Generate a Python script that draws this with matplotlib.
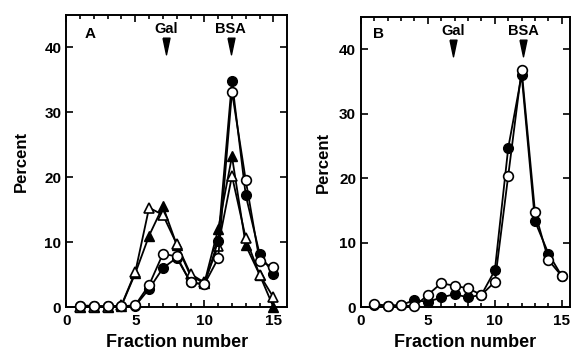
import numpy as np
import matplotlib
matplotlib.use("Agg")
import matplotlib.pyplot as plt

plt.rcParams['font.family'] = ['Liberation Sans', 'DejaVu Sans']
plt.rcParams['font.weight'] = 'bold'

# Panel A data
fractions = list(range(1, 16))
a_filled_circle = [0.2, 0.2, 0.1, 0.1, 0.2, 2.8, 6.0, 7.6, 3.8, 3.5, 10.2, 34.8, 17.2, 8.2, 5.1]
a_open_circle = [0.2, 0.2, 0.1, 0.1, 0.3, 3.4, 8.2, 7.8, 3.8, 3.5, 7.5, 33.2, 19.5, 7.1, 6.1]
a_filled_tri = [0.0, 0.0, 0.0, 0.2, 5.2, 11.0, 15.5, 9.6, 4.8, 3.7, 12.0, 23.2, 9.5, 5.0, 0.0]
a_open_tri = [0.0, 0.0, 0.0, 0.3, 5.4, 15.3, 14.2, 9.7, 5.1, 3.8, 9.4, 20.2, 10.6, 5.0, 1.5]

# Panel B data
b_filled_circle = [0.3, 0.2, 0.3, 1.1, 0.8, 1.5, 2.0, 1.5, 1.9, 5.7, 24.7, 36.0, 13.3, 8.3, 4.8]
b_open_circle = [0.5, 0.2, 0.3, 0.1, 1.9, 3.7, 3.3, 2.9, 1.9, 3.9, 20.4, 36.8, 14.7, 7.3, 4.8]

markers_a = {"Gal": 7.2, "BSA": 11.9}
markers_b = {"Gal": 6.9, "BSA": 12.1}

# tall narrow arrowhead
arrow = [(-0.42, 1), (0.42, 1), (0, -1), (-0.42, 1)]

fig = plt.figure(figsize=(5.71, 3.55), dpi=100)
axA = fig.add_axes([0.116, 0.135, 0.387, 0.823])
axB = fig.add_axes([0.632, 0.135, 0.366, 0.817])

lw = 1.3
ms = 7

def style(ax, xlim, letter, letter_pos, marks, ypad):
    ax.set_xlim(*xlim)
    ax.set_ylim(0, 45)
    ax.set_xticks([0, 5, 10, 15])
    ax.set_xticks(range(1, 16), minor=True)
    ax.set_yticks([0, 10, 20, 30, 40])
    ax.tick_params(direction='in', top=True, right=True, which='both', width=1.2,
                   labelsize=11)
    ax.tick_params(axis='x', pad=5)
    ax.tick_params(which='major', length=5)
    ax.tick_params(which='minor', length=3)
    for lab in ax.get_xticklabels() + ax.get_yticklabels():
        lab.set_fontweight('bold')
    for s in ax.spines.values():
        s.set_linewidth(1.4)
    ax.set_xlabel("Fraction number", fontsize=13, fontweight='bold', labelpad=4)
    ax.set_ylabel("Percent", fontsize=12, fontweight='bold', labelpad=ypad)
    ax.text(letter_pos[0], letter_pos[1], letter, transform=ax.transAxes, fontsize=11,
            fontweight='bold', ha='left', va='center')
    for name, xv in marks.items():
        ax.text(xv, 42.2, name, ha='center', va='baseline', fontsize=10.5, fontweight='bold')
        ax.plot(xv, 40.2, marker=arrow, color='black', markersize=12, clip_on=False)

axA.plot(fractions, a_filled_tri, '-^', color='black', mfc='black', mec='black',
         lw=lw, ms=ms + 0.5, clip_on=False, zorder=3)
axA.plot(fractions, a_open_tri, '-^', color='black', mfc='white', mec='black',
         lw=lw, ms=ms + 0.5, mew=1.2, clip_on=False, zorder=4)
axA.plot(fractions, a_filled_circle, '-o', color='black', mfc='black', mec='black',
         lw=lw, ms=ms, clip_on=False, zorder=5)
axA.plot(fractions, a_open_circle, '-o', color='black', mfc='white', mec='black',
         lw=lw, ms=ms, mew=1.2, clip_on=False, zorder=6)
style(axA, (0, 16), "A", (0.085, 0.935), markers_a, 11)

axB.plot(fractions, b_filled_circle, '-o', color='black', mfc='black', mec='black',
         lw=lw, ms=ms, clip_on=False, zorder=5)
axB.plot(fractions, b_open_circle, '-o', color='black', mfc='white', mec='black',
         lw=lw, ms=ms, mew=1.2, clip_on=False, zorder=6)
style(axB, (0, 15.6), "B", (0.057, 0.94), markers_b, 5.5)

fig.savefig("out.png", dpi=100)
